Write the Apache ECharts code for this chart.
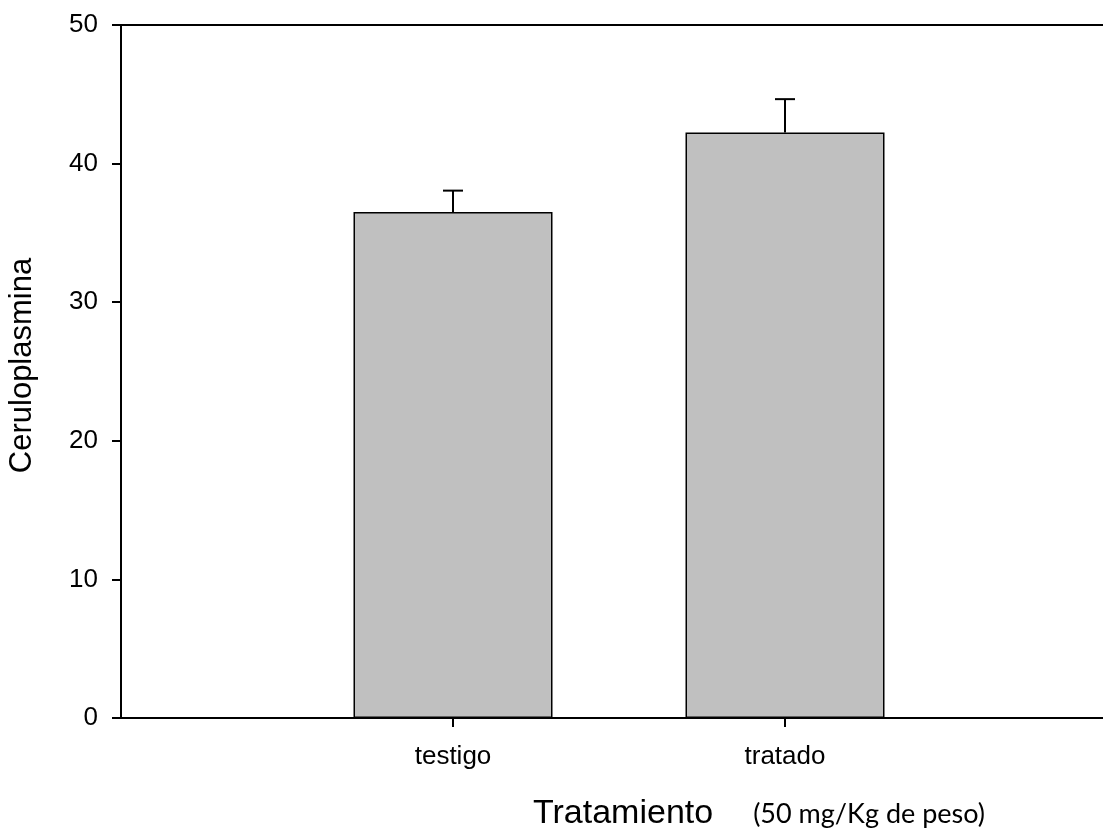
<!DOCTYPE html>
<html>
<head>
<meta charset="utf-8">
<script src="https://cdn.jsdelivr.net/npm/echarts@6/dist/echarts.min.js"></script>
<style>
  html, body { margin: 0; padding: 0; background: #fff; }
  #chart { width: 1103px; height: 831px; }
</style>
</head>
<body>
<div id="chart"></div>
<script>
// Ceruloplasmin by treatment group (mean with upper error bar)
const categories = ['testigo', 'tratado'];
const means = [36.5, 42.25];
const errors = [1.55, 2.4];
const yTicks = [0, 10, 20, 30, 40, 50];

const positions = categories.map((_, i) => i + 1);
const barData = positions.map((p, i) => [p, means[i]]);
const errData = positions.map((p, i) => [p, means[i], means[i] + errors[i]]);

const chart = echarts.init(document.getElementById('chart'), null, { renderer: 'canvas' });

const option = {
  animation: false,
  backgroundColor: '#ffffff',
  grid: {
    left: 121, top: 25, bottom: 113, right: -14,
    outerBoundsMode: 'none',
    containLabel: false,
    show: true, borderColor: '#000', borderWidth: 2, backgroundColor: 'transparent'
  },
  xAxis: {
    type: 'value',
    min: 0, max: positions.length + 1, interval: 1,
    splitLine: { show: false },
    axisLine: { show: true, onZero: false, lineStyle: { color: '#000', width: 2 } },
    axisTick: { show: true, customValues: positions, length: 9, lineStyle: { color: '#000', width: 2 } },
    axisLabel: {
      customValues: positions,
      formatter: v => categories[v - 1] || '',
      color: '#000', fontFamily: 'Liberation Sans', fontSize: 26, margin: 26
    }
  },
  yAxis: {
    type: 'value',
    min: yTicks[0], max: yTicks[yTicks.length - 1], interval: 10,
    splitLine: { show: false },
    axisLine: { show: true, lineStyle: { color: '#000', width: 2 } },
    axisTick: { show: true, length: 9, lineStyle: { color: '#000', width: 2 } },
    axisLabel: { color: '#000', fontFamily: 'Liberation Sans', fontSize: 26, margin: 23 },
    name: 'Ceruloplasmina',
    nameLocation: 'middle',
    nameGap: 83,
    nameTextStyle: { color: '#000', fontFamily: 'Liberation Sans', fontSize: 31, padding: [0, 0, 0, 12] }
  },
  title: {
    text: '{a|Tratamiento}{gap|}{b|(50 mg/Kg de peso)}',
    left: 528, top: 792,
    textStyle: {
      fontWeight: 'normal',
      rich: {
        a: { fontFamily: 'Liberation Sans', fontSize: 34, fontWeight: 'normal', color: '#000' },
        gap: { width: 40 },
        b: { fontFamily: 'Lato', fontSize: 27, fontWeight: 'normal', color: '#000', verticalAlign: 'middle' }
      }
    }
  },
  series: [
    {
      type: 'bar',
      data: barData,
      barWidth: 199,
      itemStyle: { color: '#c0c0c0', borderColor: '#000', borderWidth: 1.5 },
      z: 2
    },
    {
      type: 'custom',
      data: errData,
      z: 3,
      renderItem: (params, api) => {
        const x = api.value(0);
        const base = api.coord([x, api.value(1)]);
        const top = api.coord([x, api.value(2)]);
        const half = 10;
        const style = { stroke: '#000', lineWidth: 2 };
        return {
          type: 'group',
          children: [
            { type: 'line', shape: { x1: base[0], y1: base[1], x2: top[0], y2: top[1] }, style },
            { type: 'line', shape: { x1: top[0] - half, y1: top[1], x2: top[0] + half, y2: top[1] }, style }
          ]
        };
      }
    }
  ]
};

chart.setOption(option);
</script>
</body>
</html>
